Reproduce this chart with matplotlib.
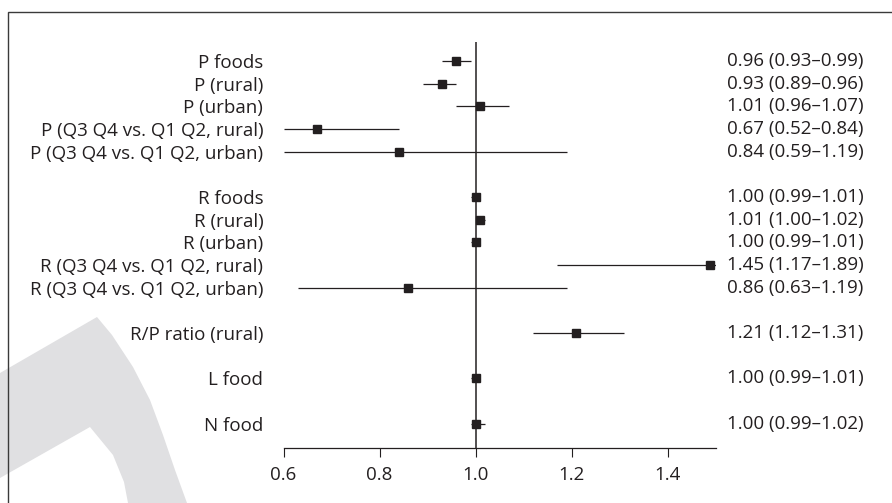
import matplotlib
matplotlib.use("Agg")
import matplotlib.pyplot as plt
import matplotlib.transforms as mtransforms
from matplotlib.patches import Polygon, Rectangle
import numpy as np

# row labels (top to bottom), None = blank spacer row
labels = [
    "P foods", "P (rural)", "P (urban)",
    "P (Q3 Q4 vs. Q1 Q2, rural)", "P (Q3 Q4 vs. Q1 Q2, urban)",
    None,
    "R foods", "R (rural)", "R (urban)",
    "R (Q3 Q4 vs. Q1 Q2, rural)", "R (Q3 Q4 vs. Q1 Q2, urban)",
    None,
    "R/P ratio (rural)",
    None,
    "L food",
    None,
    "N food",
]
est = [0.96, 0.93, 1.01, 0.67, 0.84, None, 1.00, 1.01, 1.00, 1.45, 0.86,
       None, 1.21, None, 1.00, None, 1.00]
lo = [0.93, 0.89, 0.96, 0.52, 0.59, None, 0.99, 1.00, 0.99, 1.17, 0.63,
      None, 1.12, None, 0.99, None, 0.99]
hi = [0.99, 0.96, 1.07, 0.84, 1.19, None, 1.01, 1.02, 1.01, 1.89, 1.19,
      None, 1.31, None, 1.01, None, 1.02]
# where the square sits in the figure (the 1.45 one is drawn at the axis end)
est_drawn = [0.96, 0.93, 1.01, 0.67, 0.84, None, 1.00, 1.01, 1.00, 1.488, 0.86,
             None, 1.21, None, 1.00, None, 1.00]
xticks = [0.6, 0.8, 1.0, 1.2, 1.4]
xmin, xmax = 0.6, 1.5

ink = "#231f20"
W, H = 892, 503
fs = 13.5

fig = plt.figure(figsize=(W / 100, H / 100), dpi=100)
plt.rcParams["font.family"] = ["Open Sans", "DejaVu Sans"]

# faint watermark band behind the chart (pixel coords -> figure fraction)
def px(pts):
    return [(x / W, 1 - y / H) for x, y in pts]

band = [(0, 373), (97, 317), (112, 335), (133, 367), (150, 400), (163, 435),
        (175, 470), (187, 503), (128, 503), (124, 482), (113, 455), (90, 427),
        (0, 478)]
fig.patches.append(Polygon(px(band), closed=True, transform=fig.transFigure,
                           facecolor="#e0e0e2", edgecolor="none", zorder=0))

# outer frame, cut by the right and bottom edges
fig.patches.append(Rectangle((7.7 / W, -0.1), 1.2, 1 - 11.7 / H + 0.1,
                             transform=fig.transFigure, fill=False,
                             edgecolor="#3a3a3a", linewidth=1.0, zorder=1))

ax = fig.add_axes([283.5 / W, 1 - 448 / H, 432 / W, (448 - 41.7) / H])
ax.patch.set_visible(False)
row_tf = mtransforms.blended_transform_factory(ax.transAxes, ax.transData)

for i, (e, l, h, d) in enumerate(zip(est, lo, hi, est_drawn)):
    if e is None:
        continue
    ax.plot([max(l, xmin), min(h, xmax)], [i, i], color=ink, lw=0.9,
            solid_capstyle="butt", zorder=3)
    ax.plot(d, i, marker="s", ms=5.8, color=ink, mec=ink, zorder=4)
    ax.text(1.026, i, f"{e:.2f} ({l:.2f}\u2013{h:.2f})", transform=row_tf,
            ha="left", va="center", fontsize=fs, color=ink)

ax.axvline(1.0, color=ink, lw=1.1, zorder=2)

ax.set_xlim(xmin, xmax)
ax.set_ylim(17.07, -0.85)

shown = [i for i, t in enumerate(labels) if t is not None]
ax.set_yticks(shown)
ax.set_yticklabels([labels[i] for i in shown], fontsize=fs, color=ink)
ax.tick_params(axis="y", left=False, pad=11)

ax.set_xticks(xticks)
ax.set_xticklabels([f"{t:.1f}" for t in xticks], fontsize=fs, color=ink)
ax.tick_params(axis="x", direction="out", length=6.2, width=0.8, color=ink, pad=7)

for s in ["top", "left", "right"]:
    ax.spines[s].set_visible(False)
ax.spines["bottom"].set_color(ink)
ax.spines["bottom"].set_linewidth(0.9)

fig.savefig("out.png", dpi=100)
